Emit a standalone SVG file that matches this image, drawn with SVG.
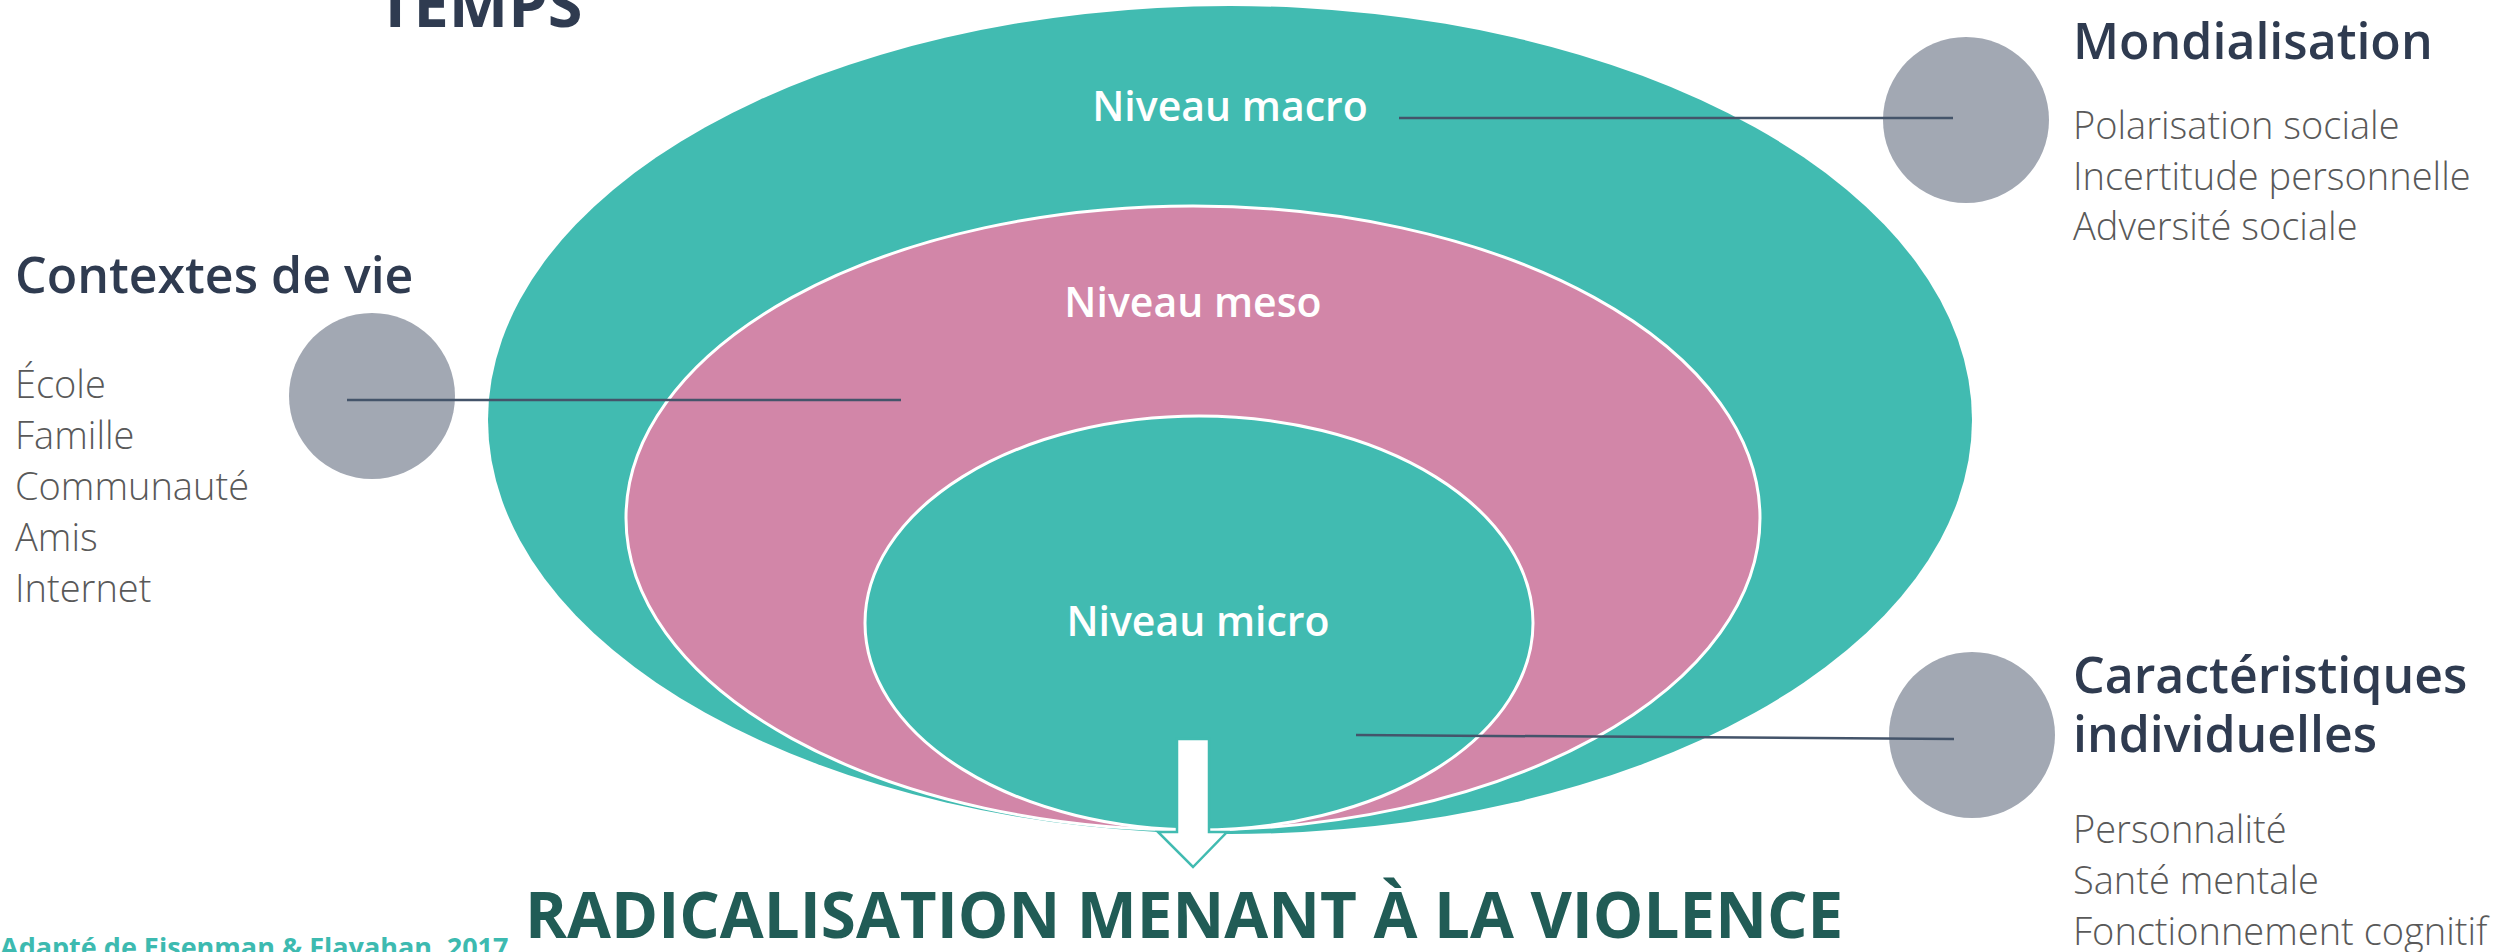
<svg xmlns="http://www.w3.org/2000/svg" width="2509" height="952" viewBox="0 0 2509 952">
  <style>
    .head { font-family: "Open Sans", "Noto Sans", "Liberation Sans", sans-serif; font-weight: 600; font-size: 50px; fill: #2F3B50; }
    .item { font-family: "Open Sans", "Noto Sans", "Liberation Sans", sans-serif; font-weight: 300; font-size: 38px; fill: #595959; }
    .lvl { font-family: "Open Sans", "Noto Sans", "Liberation Sans", sans-serif; font-weight: 600; font-size: 41px; fill: #FFFFFF; text-anchor: middle; }
    .bub { fill: #A2A8B3; }
    .conn { stroke: #44546A; stroke-width: 2.5; fill: none; }
  </style>
  <rect width="2509" height="952" fill="#FFFFFF"/>
  <text id="temps" x="377" y="27" font-family="'Open Sans', 'Noto Sans', 'Liberation Sans', sans-serif" font-weight="700" font-size="63" fill="#2F3B50">TEMPS</text>

  <g id="macro">
    <ellipse cx="1230" cy="420" rx="742" ry="414" fill="#41BBB1"/>
    <text class="lvl" x="1230" y="121">Niveau macro</text>
  </g>
  <g id="meso">
    <ellipse cx="1193" cy="518" rx="567" ry="312" fill="#D286A8" stroke="#FFFFFF" stroke-width="3"/>
    <text class="lvl" x="1193" y="317">Niveau meso</text>
  </g>
  <g id="micro">
    <ellipse cx="1199" cy="623" rx="334" ry="207" fill="#41BBB1" stroke="#FFFFFF" stroke-width="3"/>
    <text class="lvl" x="1198" y="636">Niveau micro</text>
  </g>

  <g id="arrow">
    <path d="M1177,739 L1209,739 L1209,832 L1227,832 L1193,867 L1158,832 L1177,832 Z" fill="#FFFFFF" stroke="#41BBB1" stroke-width="2.5" stroke-linejoin="miter"/>
  </g>

  <g id="contextes">
    <circle class="bub" cx="372" cy="396" r="83"/>
    <text class="head" x="15" y="293">Contextes de vie</text>
    <text class="item" x="15" y="398">École</text>
    <text class="item" x="15" y="449">Famille</text>
    <text class="item" x="15" y="500">Communauté</text>
    <text class="item" x="15" y="551">Amis</text>
    <text class="item" x="15" y="602">Internet</text>
  </g>

  <g id="mondialisation">
    <circle class="bub" cx="1966" cy="120" r="83"/>
    <text class="head" x="2073" y="59">Mondialisation</text>
    <text class="item" x="2073" y="139">Polarisation sociale</text>
    <text class="item" x="2073" y="190">Incertitude personnelle</text>
    <text class="item" x="2073" y="240">Adversité sociale</text>
  </g>

  <g id="caracteristiques">
    <circle class="bub" cx="1972" cy="735" r="83"/>
    <text class="head" x="2073" y="693">Caractéristiques</text>
    <text class="head" x="2073" y="752">individuelles</text>
    <text class="item" x="2073" y="843">Personnalité</text>
    <text class="item" x="2073" y="894">Santé mentale</text>
    <text class="item" x="2073" y="945">Fonctionnement cognitif</text>
  </g>

  <g id="connectors">
    <line class="conn" x1="347" y1="400" x2="901" y2="400"/>
    <line class="conn" x1="1399" y1="118" x2="1953" y2="118"/>
    <line class="conn" x1="1356" y1="735" x2="1954" y2="739"/>
  </g>

  <text id="titre" x="525" y="938" font-family="'Open Sans', 'Noto Sans', 'Liberation Sans', sans-serif" font-weight="700" font-size="63.7" fill="#215C56">RADICALISATION MENANT À LA VIOLENCE</text>
  <text id="source" x="0" y="957" font-family="'Open Sans', 'Noto Sans', 'Liberation Sans', sans-serif" font-weight="700" font-size="27" fill="#3DBAB0">Adapté de Eisenman &amp; Flayahan, 2017</text>
</svg>
